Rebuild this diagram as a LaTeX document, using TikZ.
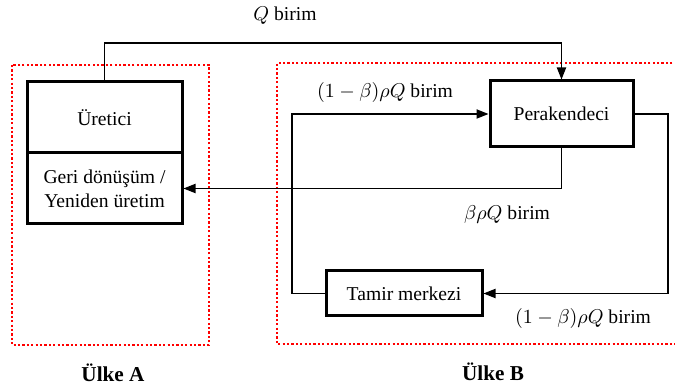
\documentclass[tikz,border=0pt]{standalone}
\usepackage{fontspec}
\setmainfont{Liberation Serif}
\usetikzlibrary{arrows.meta,positioning}
\definecolor{borderred}{RGB}{255,0,0}
\tikzset{
  base/.style={font=\fontsize{9.8}{11.8}\selectfont, align=center, inner sep=2pt, text=black},
  box/.style={base, rectangle, draw=black, fill=white, line width=1.5pt},
  lbl/.style={base, inner sep=1pt},
  country/.style={font=\fontsize{10.6}{12}\selectfont\bfseries, inner sep=1pt},
  border/.style={draw=borderred, line width=1.2pt, dash pattern=on 1.1pt off 1.1pt},
  arr/.style={-{Triangle[length=6pt,width=4.6pt]}, line width=0.7pt, draw=black},
}
\begin{document}
\begin{tikzpicture}[x=0.5pt,y=-0.5pt]
  \useasboundingbox (0,0) rectangle (675,389);
  \clip (0,0) rectangle (675,389);
  % country borders
  \draw[border] (12,65) rectangle (209,345);
  \draw[border] (690,63) -- (277,63) -- (277,344) -- (690,344);
  % facilities
  \node[box,minimum width=77.5pt,minimum height=35.5pt] (ure) at (104.5,117.5) {Üretici};
  \node[box,minimum width=77.5pt,minimum height=35.5pt] (geri) at (104.5,188.5) {Geri dönüşüm /\\Yeniden üretim};
  \node[box,minimum width=71.5pt,minimum height=33pt] (per) at (561.5,114) {Perakendeci};
  \node[box,minimum width=78pt,minimum height=22.5pt] (tam) at (404,293.5) {Tamir merkezi};
  % routing helpers
  \coordinate (qtop) at (0,43);
  \coordinate (loopL) at (292,0);
  \coordinate (loopR) at (668,0);
  % flows
  \draw[arr] (ure.north) -- (ure.north |- qtop) -| (per.north);
  \draw[arr] (per.south) -- (per.south |- geri.east) -- (geri.east);
  \draw[arr] (tam.west) -- (tam.west -| loopL) |- (per.west);
  \draw[arr] (per.east) -- (per.east -| loopR) |- (tam.east);
  % flow labels
  \node[lbl] (lq) at (285,16) {$Q$ birim};
  \node[lbl] (lrep) at (385,93) {$(1-\beta)\rho Q$ birim};
  \node[lbl] (lrec) at (507,215) {$\beta\rho Q$ birim};
  \node[lbl] (lrtm) at (583,319) {$(1-\beta)\rho Q$ birim};
  \node[country] (ulkeA) at (113,373) {Ülke A};
  \node[country] (ulkeB) at (493,372) {Ülke B};
\end{tikzpicture}
\end{document}
